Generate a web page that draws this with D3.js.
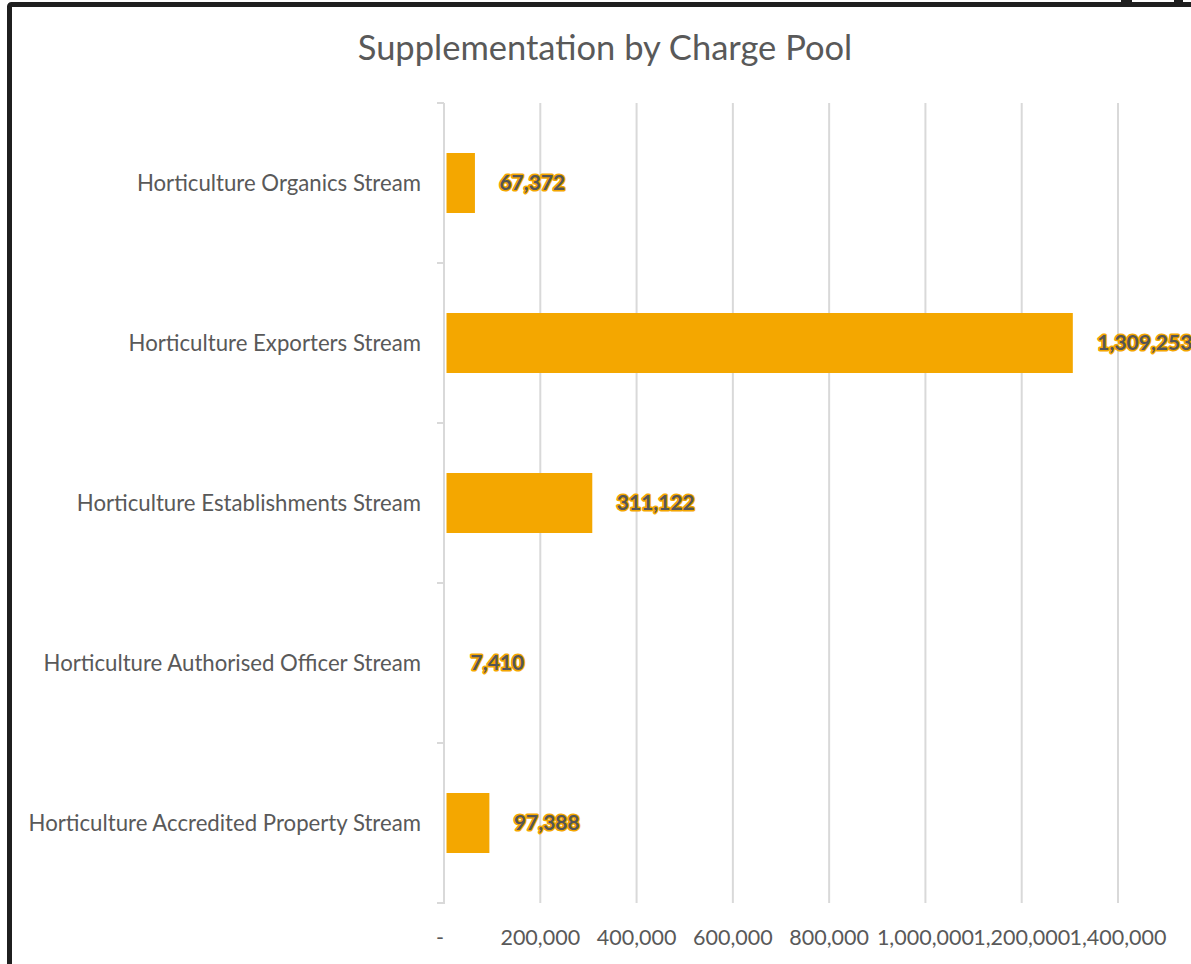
<!DOCTYPE html>
<html>
<head>
<meta charset="utf-8">
<script src="https://cdn.jsdelivr.net/npm/d3@7/dist/d3.min.js"></script>
<style>
  html, body { margin: 0; padding: 0; background: #fff; }
  svg { display: block; }
</style>
</head>
<body>
<svg id="chart" width="1191" height="964"></svg>
<script>
// Supplementation amounts per charge pool (top to bottom)
const categories = [
  "Horticulture Organics Stream",
  "Horticulture Exporters Stream",
  "Horticulture Establishments Stream",
  "Horticulture Authorised Officer Stream",
  "Horticulture Accredited Property Stream"
];
const values = [67372, 1309253, 311122, 7410, 97388];
const tickValues = [0, 200000, 400000, 600000, 800000, 1000000, 1200000, 1400000];
const tickLabels = ["-", "200,000", "400,000", "600,000", "800,000", "1,000,000", "1,200,000", "1,400,000"];
const title = "Supplementation by Charge Pool";

const FONT = "Lato, 'Open Sans', sans-serif";
const GREY = "#595959";
const BAR = "#F4A700";

const svg = d3.select("#chart");

// outer frame
svg.append("rect")
  .attr("x", 9.5).attr("y", 4.5)
  .attr("width", 1300).attr("height", 1100)
  .attr("rx", 2)
  .attr("fill", "none")
  .attr("stroke", "#1f1f1f")
  .attr("stroke-width", 5);
svg.append("rect").attr("x", 1121).attr("y", 0).attr("width", 11).attr("height", 4).attr("fill", "#1f1f1f");
svg.append("rect").attr("x", 1174).attr("y", 0).attr("width", 9).attr("height", 4).attr("fill", "#1f1f1f");

// title
svg.append("text")
  .attr("x", 605).attr("y", 60)
  .attr("text-anchor", "middle")
  .attr("font-family", FONT)
  .attr("font-size", 34.5)
  .attr("fill", GREY)
  .text(title);

const x = d3.scaleLinear().domain([0, 1400000]).range([444, 1118]);
const y = d3.scaleBand().domain(categories).range([103, 903]).paddingInner(0.625).paddingOuter(0.3125);
const yOuter = d3.scaleBand().domain(categories).range([103, 903]);

// vertical gridlines
svg.append("g")
  .selectAll("line")
  .data(tickValues.slice(1))
  .join("line")
  .attr("x1", d => x(d)).attr("x2", d => x(d))
  .attr("y1", 103).attr("y2", 903)
  .attr("stroke", "#d9d9d9")
  .attr("stroke-width", 2);

// category axis line with tick marks at band boundaries
const axisG = svg.append("g");
axisG.append("line")
  .attr("x1", x(0)).attr("x2", x(0))
  .attr("y1", 103).attr("y2", 904)
  .attr("stroke", "#d9d9d9").attr("stroke-width", 2);
const boundaries = categories.map(c => yOuter(c)).concat([903]);
axisG.selectAll("line.tick")
  .data(boundaries)
  .join("line")
  .attr("class", "tick")
  .attr("x1", x(0) - 7).attr("x2", x(0))
  .attr("y1", d => d).attr("y2", d => d)
  .attr("stroke", "#d9d9d9").attr("stroke-width", 2);

// category labels
svg.append("g")
  .selectAll("text")
  .data(categories)
  .join("text")
  .attr("x", 421)
  .attr("y", d => yOuter(d) + yOuter.bandwidth() / 2)
  .attr("dy", "0.35em")
  .attr("text-anchor", "end")
  .attr("font-family", FONT)
  .attr("font-size", 22.2)
  .attr("fill", GREY)
  .text(d => d);

// bars
svg.append("g")
  .selectAll("rect")
  .data(values)
  .join("rect")
  .attr("x", x(0) + 2.5)
  .attr("y", (d, i) => y(categories[i]))
  .attr("width", d => Math.max(0, x(d) - x(0) - 4))
  .attr("height", y.bandwidth())
  .attr("fill", BAR);

// value labels: grey text with an orange outline
const fmt = d3.format(",");
svg.append("g")
  .selectAll("text")
  .data(values)
  .join("text")
  .attr("x", d => x(d) + 23)
  .attr("y", (d, i) => y(categories[i]) + y.bandwidth() / 2)
  .attr("dy", "0.35em")
  .attr("font-family", FONT)
  .attr("font-weight", "bold")
  .attr("font-size", 21)
  .attr("fill", "#555555")
  .attr("stroke", BAR)
  .attr("stroke-width", 3)
  .attr("stroke-linejoin", "round")
  .attr("paint-order", "stroke")
  .text(d => fmt(d));

// value axis labels
svg.append("g")
  .selectAll("text")
  .data(tickValues)
  .join("text")
  .attr("x", (d, i) => x(d) - (i === 0 ? 4 : 0))
  .attr("y", 937)
  .attr("dy", "0.35em")
  .attr("text-anchor", "middle")
  .attr("font-family", FONT)
  .attr("font-size", 21.5)
  .attr("fill", GREY)
  .text((d, i) => tickLabels[i]);
</script>
</body>
</html>
